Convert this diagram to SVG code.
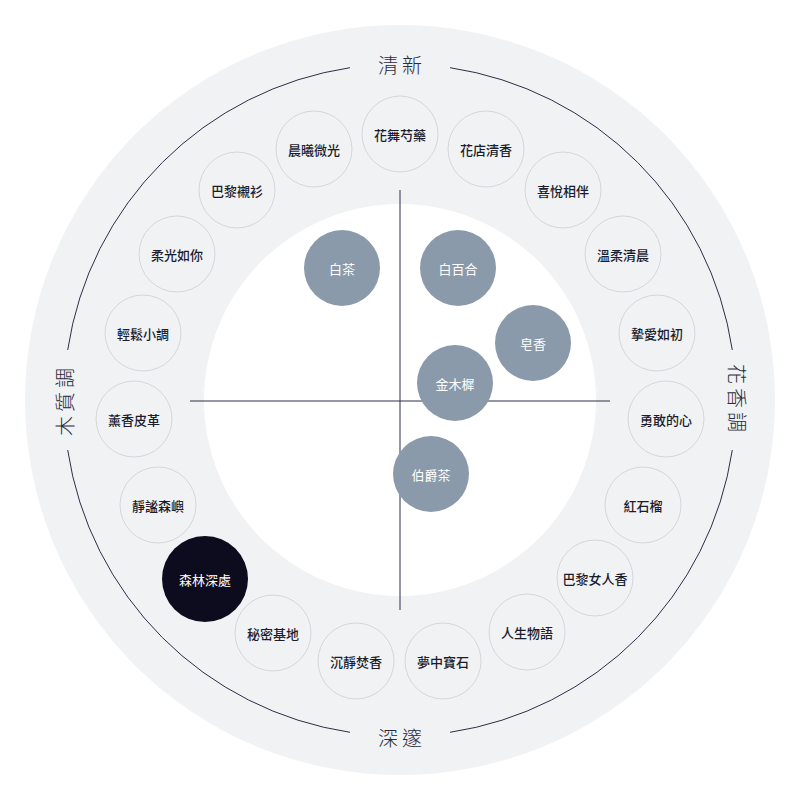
<svg xmlns="http://www.w3.org/2000/svg" width="800" height="800" viewBox="0 0 800 800">
<style>
.n{fill:none;stroke:#d4d6da;stroke-width:1}
.t{font-family:"Noto Sans CJK TC","Noto Sans CJK SC",sans-serif;font-size:13px;fill:#1a1d2e;text-anchor:middle;dominant-baseline:central;font-weight:500}
.b{fill:#8a9aab}
.bt{font-family:"Noto Sans CJK TC",sans-serif;font-size:13px;fill:#fff;text-anchor:middle;dominant-baseline:central}
.L{font-family:"Noto Sans CJK TC",sans-serif;font-size:20px;fill:#2a2d3e;text-anchor:middle;dominant-baseline:central;letter-spacing:4px;font-weight:300}
.ax{stroke:#2a2f48;stroke-width:1;fill:none}
</style>
<rect width="800" height="800" fill="#fff"/>
<circle cx="400" cy="400" r="375" fill="#f1f2f4"/>
<circle cx="400" cy="400" r="196" fill="#fff"/>
<g id="ring" class="ax">
<path d="M450,67.7 A336,336 0 0 1 732.3,350"/>
<path d="M732.3,450 A336,336 0 0 1 450,732.3"/>
<path d="M350,732.3 A336,336 0 0 1 67.7,450"/>
<path d="M67.7,350 A336,336 0 0 1 350,67.7"/>
</g>
<g id="labels">
<text class="L" x="402" y="64">清新</text>
<text class="L" x="402" y="737">深邃</text>
<text class="L" transform="translate(64,400) rotate(-90)">木質調</text>
<text class="L" transform="translate(737,400) rotate(90)">花香調</text>
</g>
<g id="connectors" class="ax">
<line x1="400" y1="190" x2="400" y2="610"/>
<line x1="190" y1="401" x2="610" y2="401"/>
</g>
<g id="n1"><circle class="n" cx="400" cy="134" r="38"/><text class="t" x="400" y="134">花舞芍藥</text></g>
<g id="n2"><circle class="n" cx="314" cy="149" r="38"/><text class="t" x="314" y="149">晨曦微光</text></g>
<g id="n3"><circle class="n" cx="486" cy="149" r="38"/><text class="t" x="486" y="149">花店清香</text></g>
<g id="n4"><circle class="n" cx="237" cy="190" r="38"/><text class="t" x="237" y="190">巴黎襯衫</text></g>
<g id="n5"><circle class="n" cx="563" cy="190" r="38"/><text class="t" x="563" y="190">喜悅相伴</text></g>
<g id="n6"><circle class="n" cx="177" cy="254" r="38"/><text class="t" x="177" y="254">柔光如你</text></g>
<g id="n7"><circle class="n" cx="623" cy="254" r="38"/><text class="t" x="623" y="254">溫柔清晨</text></g>
<g id="n8"><circle class="n" cx="143" cy="333" r="38"/><text class="t" x="143" y="333">輕鬆小調</text></g>
<g id="n9"><circle class="n" cx="657" cy="333" r="38"/><text class="t" x="657" y="333">摯愛如初</text></g>
<g id="n10"><circle class="n" cx="134" cy="419" r="38"/><text class="t" x="134" y="419">薰香皮革</text></g>
<g id="n11"><circle class="n" cx="666" cy="419" r="38"/><text class="t" x="666" y="419">勇敢的心</text></g>
<g id="n12"><circle class="n" cx="158" cy="505" r="38"/><text class="t" x="158" y="505">靜謐森嶼</text></g>
<g id="n13"><circle class="n" cx="643" cy="505" r="38"/><text class="t" x="643" y="505">紅石榴</text></g>
<g id="n14"><circle cx="205" cy="579" r="43" fill="#0d0c1f"/><text class="bt" x="205" y="579">森林深處</text></g>
<g id="n15"><circle class="n" cx="595" cy="578" r="38"/><text class="t" x="595" y="578">巴黎女人香</text></g>
<g id="n16"><circle class="n" cx="273" cy="633" r="38"/><text class="t" x="273" y="633">秘密基地</text></g>
<g id="n17"><circle class="n" cx="527" cy="632" r="38"/><text class="t" x="527" y="632">人生物語</text></g>
<g id="n18"><circle class="n" cx="356" cy="661" r="38"/><text class="t" x="356" y="661">沉靜焚香</text></g>
<g id="n19"><circle class="n" cx="443" cy="661" r="38"/><text class="t" x="443" y="661">夢中寶石</text></g>
<g id="b1"><circle class="b" cx="342" cy="268" r="38"/><text class="bt" x="342" y="268">白茶</text></g>
<g id="b2"><circle class="b" cx="458" cy="268" r="38"/><text class="bt" x="458" y="268">白百合</text></g>
<g id="b3"><circle class="b" cx="533" cy="343" r="38"/><text class="bt" x="533" y="343">皂香</text></g>
<g id="b4"><circle class="b" cx="455" cy="383" r="38"/><text class="bt" x="455" y="383">金木樨</text></g>
<g id="b5"><circle class="b" cx="431" cy="474" r="38"/><text class="bt" x="431" y="474">伯爵茶</text></g>
</svg>
